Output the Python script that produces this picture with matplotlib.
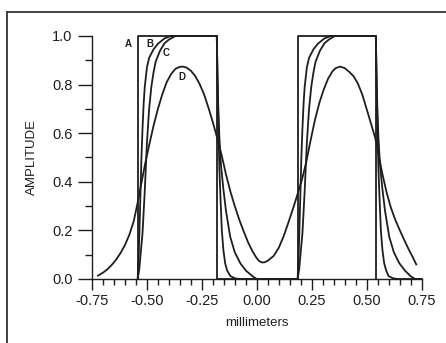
"""
plot.py
Amplitude profiles of a two-bar target (A) and three blurred responses (B, C, D).
"""

import matplotlib.pyplot as plt
from matplotlib.lines import Line2D
from matplotlib.ticker import MultipleLocator

# Curve A: ideal two-bar target
a_x = [-0.542, -0.542, -0.182, -0.182, 0.186, 0.186, 0.542, 0.542]
a_y = [0.0, 1.0, 1.0, 0.0, 0.0, 1.0, 1.0, 0.0]

# Curve B: slight blur
b_x = [-0.542, -0.538, -0.534, -0.530, -0.525, -0.520, -0.515, -0.510, -0.500,
       -0.490, -0.470, -0.450, -0.420, -0.390, -0.182, -0.178, -0.174, -0.170,
       -0.165, -0.159, -0.152, -0.144, -0.135, -0.120, -0.100, -0.080,
       0.186, 0.190, 0.194, 0.198, 0.203, 0.208, 0.213, 0.218, 0.228,
       0.238, 0.258, 0.278, 0.308, 0.338, 0.542, 0.546, 0.550, 0.554,
       0.559, 0.565, 0.572, 0.580, 0.589, 0.600, 0.620, 0.640, 0.750]
b_y = [0.0, 0.08, 0.20, 0.33, 0.50, 0.62, 0.72, 0.79, 0.87,
       0.91, 0.945, 0.968, 0.99, 1.0, 1.0, 0.80, 0.60, 0.45,
       0.33, 0.20, 0.12, 0.065, 0.035, 0.012, 0.003, 0.0,
       0.0, 0.08, 0.20, 0.33, 0.50, 0.62, 0.72, 0.79, 0.87,
       0.91, 0.945, 0.968, 0.99, 1.0, 1.0, 0.80, 0.60, 0.45,
       0.33, 0.20, 0.12, 0.065, 0.035, 0.012, 0.003, 0.0, 0.0]

# Curve C: moderate blur
c_x = [-0.542, -0.535, -0.528, -0.520, -0.510, -0.500, -0.490, -0.480, -0.470,
       -0.460, -0.440, -0.420, -0.400, -0.370, -0.182, -0.179, -0.175, -0.170,
       -0.163, -0.152, -0.140, -0.121, -0.100, -0.075, -0.050, -0.020, 0.000,
       0.186, 0.193, 0.200, 0.208, 0.218, 0.228, 0.238, 0.248, 0.258,
       0.268, 0.288, 0.308, 0.328, 0.355, 0.542, 0.545, 0.549, 0.554,
       0.561, 0.572, 0.584, 0.603, 0.624, 0.649, 0.674, 0.700, 0.720, 0.750]
c_y = [0.0, 0.04, 0.11, 0.19, 0.36, 0.56, 0.70, 0.79, 0.85,
       0.895, 0.94, 0.97, 0.985, 1.0, 1.0, 0.85, 0.70, 0.58,
       0.47, 0.37, 0.28, 0.174, 0.11, 0.065, 0.035, 0.012, 0.0,
       0.0, 0.04, 0.11, 0.19, 0.36, 0.56, 0.70, 0.79, 0.85,
       0.895, 0.94, 0.97, 0.985, 1.0, 1.0, 0.85, 0.70, 0.58,
       0.47, 0.37, 0.28, 0.174, 0.11, 0.065, 0.035, 0.012, 0.0, 0.0]

# Curve D: heavy blur
d_x = [-0.723, -0.700, -0.680, -0.660, -0.640, -0.620, -0.600, -0.580, -0.560,
       -0.542, -0.525, -0.508, -0.490, -0.470, -0.450, -0.430, -0.410, -0.390,
       -0.370, -0.350, -0.337, -0.320, -0.300, -0.280, -0.260, -0.240, -0.220,
       -0.200, -0.180, -0.160, -0.140, -0.120, -0.100, -0.080, -0.060, -0.040,
       -0.020, 0.000, 0.012, 0.024, 0.036, 0.050, 0.077, 0.100, 0.122,
       0.145, 0.168, 0.186, 0.206, 0.225, 0.245, 0.265, 0.285, 0.305,
       0.325, 0.345, 0.360, 0.379, 0.400, 0.420, 0.440, 0.460, 0.480,
       0.500, 0.520, 0.540, 0.555, 0.570, 0.590, 0.610, 0.630, 0.650,
       0.670, 0.690, 0.710, 0.726]
d_y = [0.014, 0.026, 0.040, 0.058, 0.080, 0.107, 0.140, 0.182, 0.238,
       0.315, 0.395, 0.475, 0.550, 0.630, 0.700, 0.760, 0.810, 0.843,
       0.865, 0.873, 0.874, 0.870, 0.857, 0.835, 0.802, 0.760, 0.705,
       0.645, 0.580, 0.510, 0.430, 0.360, 0.300, 0.245, 0.197, 0.152,
       0.115, 0.085, 0.073, 0.068, 0.069, 0.075, 0.095, 0.128, 0.175,
       0.235, 0.298, 0.350, 0.410, 0.480, 0.570, 0.655, 0.725, 0.780,
       0.825, 0.855, 0.868, 0.874, 0.868, 0.853, 0.835, 0.805, 0.760,
       0.700, 0.640, 0.578, 0.510, 0.440, 0.360, 0.295, 0.245, 0.203,
       0.163, 0.125, 0.090, 0.060]

curve_labels = ["A", "B", "C", "D"]
label_x = [-0.583, -0.488, -0.412, -0.341]
label_y = [0.967, 0.967, 0.930, 0.833]

x_ticks = [-0.75, -0.50, -0.25, 0.00, 0.25, 0.50, 0.75]
y_ticks = [0.0, 0.2, 0.4, 0.6, 0.8, 1.0]

plt.rcParams["font.family"] = ["Liberation Sans", "DejaVu Sans"]
plt.rcParams["axes.unicode_minus"] = False

ink = "#1e1e1e"

fig = plt.figure(figsize=(4.46, 3.43), dpi=100)
ax = fig.add_axes([0.2063, 0.1866, 0.7388, 0.7085])

for xs, ys in [(a_x, a_y), (b_x, b_y), (c_x, c_y), (d_x, d_y)]:
    ax.plot(xs, ys, color=ink, lw=1.3, solid_joinstyle="round", clip_on=False)

for name, lx, ly in zip(curve_labels, label_x, label_y):
    ax.text(lx, ly, name, fontsize=7, fontweight="bold", color=ink,
            ha="center", va="center")

ax.set_xlim(-0.75, 0.75)
ax.set_ylim(0.0, 1.0)

ax.set_xticks(x_ticks)
ax.set_xticklabels([f"{v:.2f}" for v in x_ticks])
ax.set_yticks(y_ticks)
ax.set_yticklabels([f"{v:.1f}" for v in y_ticks])
ax.xaxis.set_minor_locator(MultipleLocator(0.05))
ax.yaxis.set_minor_locator(MultipleLocator(0.1))

ax.tick_params(axis="y", which="major", length=10, width=1.0, pad=4,
               labelsize=10.5, colors=ink)
ax.tick_params(axis="y", which="minor", length=5, width=1.0, colors=ink)
ax.tick_params(axis="x", which="major", length=8, width=1.0, pad=3,
               labelsize=10.5, colors=ink)
ax.tick_params(axis="x", which="minor", length=4, width=1.0, colors=ink)

for side in ["top", "right"]:
    ax.spines[side].set_visible(False)
for side in ["left", "bottom"]:
    ax.spines[side].set_color(ink)
    ax.spines[side].set_linewidth(1.0)

ax.set_xlabel("millimeters", fontsize=9.5, color=ink, labelpad=6)
ax.set_ylabel("AMPLITUDE", fontsize=9.5, color=ink, labelpad=10)

# Outer frame around the figure (left and top edges visible)
fx = 7 / 446
fy = 1 - 12 / 343
fig.add_artist(Line2D([fx, fx], [0, fy], color="#333333", lw=1.3,
                      transform=fig.transFigure))
fig.add_artist(Line2D([fx, 1], [fy, fy], color="#333333", lw=1.3,
                      transform=fig.transFigure))

fig.savefig("out.png", dpi=100)
